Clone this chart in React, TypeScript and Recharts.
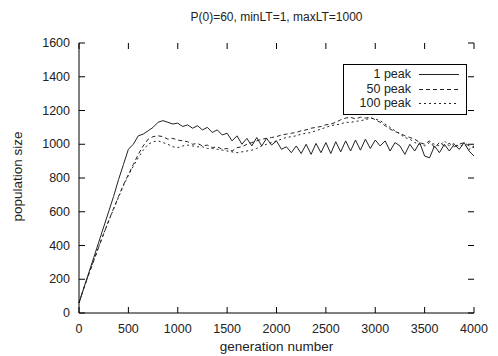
import { LineChart, Line, XAxis, YAxis } from 'recharts'

const generations = [
  0, 50, 100, 150, 200, 250, 300, 350, 400, 450, 500, 550, 600, 650, 700, 750, 800, 850, 900, 950,
  1000, 1050, 1100, 1150, 1200, 1250, 1300, 1350, 1400, 1450, 1500, 1550, 1600, 1650, 1700, 1750, 1800, 1850, 1900, 1950,
  2000, 2050, 2100, 2150, 2200, 2250, 2300, 2350, 2400, 2450, 2500, 2550, 2600, 2650, 2700, 2750, 2800, 2850, 2900, 2950,
  3000, 3050, 3100, 3150, 3200, 3250, 3300, 3350, 3400, 3450, 3500, 3550, 3600, 3650, 3700, 3750, 3800, 3850, 3900, 3950,
  4000,
]

const peak1 = [
  60, 150, 240, 330, 420, 510, 600, 690, 790, 880, 970, 1000, 1050, 1060, 1080, 1100, 1130, 1140, 1130, 1120,
  1125, 1105, 1115, 1095, 1110, 1085, 1100, 1070, 1085, 1055, 1065, 1020, 1050, 1000, 1035, 990, 1040, 990, 1035, 995,
  1020, 970, 985, 950, 990, 945, 1000, 940, 1005, 950, 1010, 945, 1015, 955, 1020, 960, 1025, 965, 1030, 975,
  1025, 990, 1020, 960, 1010, 990, 940, 1000, 960, 1010, 930, 920, 990, 950, 1000, 960, 1000, 970, 1010, 960,
  930,
]

const peak50 = [
  60, 150, 230, 310, 390, 470, 545, 620, 690, 760, 820, 880, 940, 990, 1030, 1045, 1050, 1045, 1030, 1035,
  1025, 1020, 1015, 1000, 1005, 990, 995, 980, 985, 970, 975, 960, 980, 985, 1000, 1010, 1020, 1030, 1035, 1040,
  1045, 1055, 1060, 1065, 1070, 1080, 1085, 1095, 1100, 1105, 1115, 1120, 1130, 1145, 1155, 1160, 1150, 1160, 1155, 1160,
  1145, 1130, 1110, 1090, 1075, 1065, 1050, 1040, 1030, 1010, 1000, 1020, 980, 1010, 990, 1005, 985, 1000, 1010, 990,
  980,
]

const peak100 = [
  60, 150, 235, 315, 395, 470, 545, 615, 685, 755, 815, 870, 920, 965, 1000, 1015, 1020, 1010, 1000, 985,
  980, 990, 995, 990, 985, 985, 975, 975, 970, 965, 960, 955, 950, 955, 960, 965, 975, 990, 1000, 1010,
  1020, 1030, 1040, 1045, 1050, 1060, 1065, 1070, 1080, 1090, 1100, 1110, 1115, 1120, 1130, 1130, 1135, 1140, 1145, 1155,
  1150, 1140, 1120, 1100, 1080, 1060, 1040, 1030, 1010, 1000, 990, 1010, 1000, 990, 1020, 990, 1005, 985, 1000, 970,
  990,
]

const xTicks = [0, 500, 1000, 1500, 2000, 2500, 3000, 3500, 4000]
const yTicks = [0, 200, 400, 600, 800, 1000, 1200, 1400, 1600]

const series = [
  { key: 'p1', name: '1 peak', dash: undefined },
  { key: 'p50', name: '50 peak', dash: '4 3' },
  { key: 'p100', name: '100 peak', dash: '2 3' },
]

const data = generations.map((g, i) => ({
  gen: g,
  p1: peak1[i],
  p50: peak50[i],
  p100: peak100[i],
}))

const W = 498
const H = 356
const LEFT = 79
const RIGHT = 474
const TOP = 43
const BOTTOM = 313
const TICK = 6
const FONT = '"Liberation Sans", Arial, sans-serif'
const INK = '#222'

function XTick(props: any) {
  const { x, payload } = props
  return (
    <g>
      <line x1={x} x2={x} y1={BOTTOM} y2={BOTTOM - TICK} stroke="#000" />
      <line x1={x} x2={x} y1={TOP} y2={TOP + TICK} stroke="#000" />
      <text x={x} y={333} textAnchor="middle" fontSize={12.5} fontFamily={FONT} fill={INK}>
        {payload.value}
      </text>
    </g>
  )
}

function YTick(props: any) {
  const { y, payload } = props
  return (
    <g>
      <line x1={LEFT} x2={LEFT + TICK} y1={y} y2={y} stroke="#000" />
      <line x1={RIGHT} x2={RIGHT - TICK} y1={y} y2={y} stroke="#000" />
      <text x={70} y={y + 4} textAnchor="end" fontSize={12.5} fontFamily={FONT} fill={INK}>
        {payload.value}
      </text>
    </g>
  )
}

// gnuplot-style key box, drawn over the plot
function KeyBox() {
  return (
    <div
      style={{
        position: 'absolute',
        left: 343,
        top: 64,
        width: 122,
        border: '1px solid #000',
        background: '#fff',
        padding: '2px 0 3px',
        fontFamily: FONT,
        fontSize: 12.5,
        color: INK,
      }}
    >
      {series.map(s => (
        <div key={s.key} style={{ display: 'flex', alignItems: 'center', height: 14.5 }}>
          <span style={{ width: 67, textAlign: 'right' }}>{s.name}</span>
          <svg width={55} height={14}>
            <line x1={8} x2={48} y1={7.5} y2={7.5} stroke={INK} strokeDasharray={s.dash} />
          </svg>
        </div>
      ))}
    </div>
  )
}

export default function App() {
  return (
    <div style={{ position: 'absolute', left: 0, top: 0, width: W, height: H, background: '#fff' }}>
      <div
        style={{
          position: 'absolute', left: LEFT, width: RIGHT - LEFT, top: 10, textAlign: 'center',
          fontFamily: FONT, fontSize: 12, color: INK,
        }}
      >
        P(0)=60, minLT=1, maxLT=1000
      </div>
      <div
        style={{
          position: 'absolute', left: LEFT, width: RIGHT - LEFT, top: 339, textAlign: 'center',
          fontFamily: FONT, fontSize: 13.5, color: INK,
        }}
      >
        generation number
      </div>
      <div style={{ position: 'absolute', left: 17, top: (TOP + BOTTOM) / 2, width: 0, height: 0 }}>
        <div
          style={{
            position: 'absolute', left: -70, top: -9, width: 140, textAlign: 'center',
            transform: 'rotate(-90deg)', fontFamily: FONT, fontSize: 13.5, color: INK, whiteSpace: 'nowrap',
          }}
        >
          population size
        </div>
      </div>
      <LineChart
        width={W}
        height={H}
        data={data}
        margin={{ top: TOP, right: W - RIGHT, bottom: 0, left: 0 }}
      >
        <XAxis
          dataKey="gen"
          type="number"
          domain={[0, 4000]}
          ticks={xTicks}
          height={H - BOTTOM}
          axisLine={{ stroke: '#000' }}
          tickLine={false}
          tick={<XTick />}
          interval={0}
        />
        <XAxis xAxisId="top" orientation="top" type="number" domain={[0, 4000]} height={0} tick={false} tickLine={false} axisLine={{ stroke: '#000' }} />
        <YAxis
          type="number"
          domain={[0, 1600]}
          ticks={yTicks}
          width={LEFT}
          axisLine={{ stroke: '#000' }}
          tickLine={false}
          tick={<YTick />}
          interval={0}
        />
        <YAxis yAxisId="right" orientation="right" type="number" domain={[0, 1600]} width={0} tick={false} tickLine={false} axisLine={{ stroke: '#000' }} />
        {series.map(s => (
          <Line
            key={s.key}
            dataKey={s.key}
            name={s.name}
            type="linear"
            stroke={INK}
            strokeWidth={1}
            strokeDasharray={s.dash}
            dot={false}
            isAnimationActive={false}
          />
        ))}
      </LineChart>
      <KeyBox />
    </div>
  )
}
